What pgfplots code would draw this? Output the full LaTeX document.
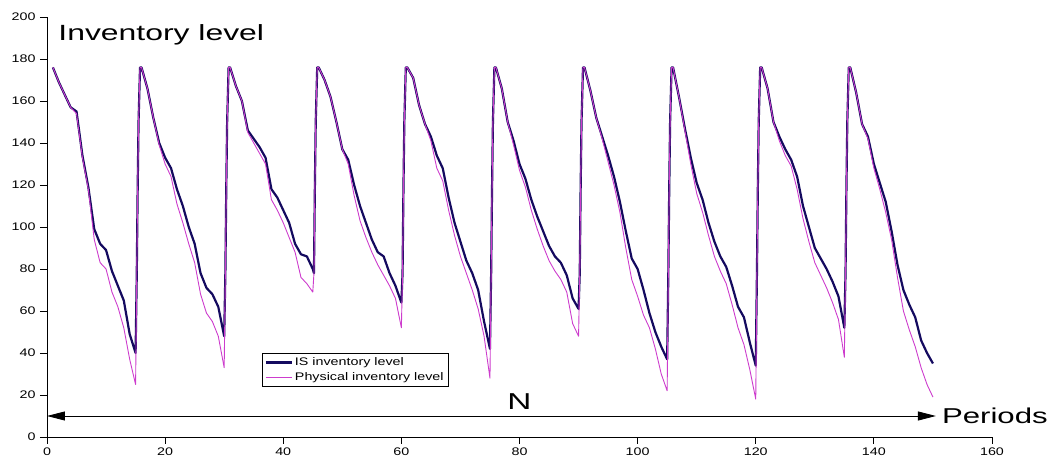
\documentclass[border=0pt]{standalone}
\usepackage{fontspec}
\setmainfont{Liberation Sans}[FakeStretch=1.3]
\newfontfamily\bigfont{Liberation Sans}[FakeStretch=1.45]
\usepackage{pgfplots}
\usepackage{pgfplotstable}
\pgfplotsset{compat=1.18}
\usetikzlibrary{arrows.meta}
\definecolor{isnavy}{RGB}{20,10,95}
\definecolor{physmag}{RGB}{205,60,205}

\pgfplotstableread{
x y
1 176
2 169
3 163
4 157
5 155
6 134
7 119
8 99
9 92
10 89
11 79
12 72
13 65
14 49
15 40
15.2 78
15.35 118
15.5 150
15.75 176
16 176
17 166
18 152
19 140
20 133
21 128
22 118
23 110
24 100
25 92
26 78
27 71
28 68
29 62
30 48
30.2 78
30.35 118
30.5 150
30.75 176
31 176
32 167
33 160
34 146
35 142
36 138
37 133
38 118
39 114
40 108
41 102
42 92
43 87
44 86
45 80
45.2 78
45.35 118
45.5 150
45.75 176
46 176
47 170
48 162
49 150
50 137
51 132
52 120
53 110
54 102
55 94
56 88
57 86
58 78
59 72
60 64
60.2 78
60.35 118
60.5 150
60.75 176
61 176
62 171
63 158
64 149
65 143
66 134
67 128
68 114
69 102
70 93
71 84
72 78
73 70
74 55
75 42
75.2 78
75.35 118
75.5 150
75.75 176
76 176
77 166
78 150
79 141
80 130
81 123
82 113
83 105
84 98
85 91
86 86
87 83
88 77
89 66
90 61
90.2 78
90.35 118
90.5 150
90.75 176
91 176
92 165
93 152
94 143
95 134
96 124
97 112
98 98
99 85
100 80
101 70
102 59
103 50
104 43
105 37
105.2 78
105.35 118
105.5 150
105.75 176
106 176
107 162
108 147
109 133
110 121
111 113
112 102
113 93
114 86
115 81
116 72
117 62
118 57
119 45
120 34
120.2 78
120.35 118
120.5 150
120.75 176
121 176
122 166
123 150
124 143
125 137
126 132
127 124
128 110
129 100
130 90
131 85
132 80
133 74
134 67
135 52
135.2 78
135.35 118
135.5 150
135.75 176
136 176
137 164
138 149
139 143
140 130
141 121
142 112
143 98
144 82
145 70
146 63
147 57
148 46
149 40
150 35
}\istable

\pgfplotstableread{
x y
1 176
2 169
3 163
4 157
5 154
6 133
7 118
8 94
9 83
10 80
11 69
12 62
13 52
14 37
15 25
15.2 78
15.35 118
15.5 150
15.75 176
16 176
17 166
18 152
19 139
20 130
21 124
22 111
23 102
24 92
25 83
26 68
27 59
28 55
29 48
30 33
30.2 78
30.35 118
30.5 150
30.75 176
31 176
32 167
33 160
34 145
35 140
36 135
37 130
38 113
39 108
40 102
41 95
42 88
43 76
44 73
45 69
45.2 78
45.35 118
45.5 150
45.75 176
46 176
47 170
48 162
49 150
50 137
51 130
52 115
53 103
54 95
55 88
56 82
57 77
58 72
59 66
60 52
60.2 78
60.35 118
60.5 150
60.75 176
61 176
62 171
63 158
64 149
65 141
66 128
67 122
68 108
69 96
70 86
71 78
72 70
73 61
74 48
75 28
75.2 78
75.35 118
75.5 150
75.75 176
76 176
77 166
78 150
79 139
80 127
81 119
82 108
83 99
84 91
85 84
86 79
87 75
88 69
89 54
90 48
90.2 78
90.35 118
90.5 150
90.75 176
91 176
92 165
93 152
94 142
95 131
96 120
97 107
98 90
99 75
100 67
101 58
102 52
103 42
104 30
105 22
105.2 78
105.35 118
105.5 150
105.75 176
106 176
107 162
108 146
109 130
110 116
111 107
112 96
113 86
114 79
115 73
116 63
117 52
118 44
119 32
120 18
120.2 78
120.35 118
120.5 150
120.75 176
121 176
122 166
123 150
124 141
125 134
126 129
127 118
128 104
129 93
130 83
131 77
132 71
133 64
134 56
135 38
135.2 78
135.35 118
135.5 150
135.75 176
136 176
137 164
138 149
139 142
140 128
141 118
142 107
143 94
144 76
145 60
146 51
147 43
148 33
149 25
150 19
}\phystable

\begin{document}
\begin{tikzpicture}
\useasboundingbox (-47pt,-23pt) rectangle (1003pt,437pt);
\begin{axis}[
  width=945pt, height=420pt, scale only axis,
  xmin=0, xmax=160, ymin=0, ymax=200,
  xtick={0,20,...,160}, ytick={0,20,...,200},
  axis lines=left,
  axis line style={-, line width=0.9pt, black},
  tick align=outside,
  major tick length=7pt,
  tick style={line width=0.9pt, black},
  /pgf/number format/assume math mode=true,
  tick label style={font=\fontsize{11}{13}\selectfont},
  yticklabel style={xshift=-1pt},
  clip=false,
  legend style={at={(axis cs:36.4,40)}, anchor=north west, draw=black,
    line width=0.6pt, font=\fontsize{11}{11}\selectfont,
    inner sep=2.5pt, row sep=1.5pt, cells={anchor=west}},
  legend image code/.code={\draw[#1] (0pt,0pt) -- (26pt,0pt);},
]
\addplot[isnavy, line width=2.2pt, line join=round] table[x=x,y=y] {\istable};
\addlegendentry{IS inventory level}
\addplot[physmag, line width=0.9pt, line join=round] table[x=x,y=y] {\phystable};
\addlegendentry{Physical inventory level}

\draw[{Triangle[length=18pt,width=9pt]}-{Triangle[length=18pt,width=9pt]}, line width=0.9pt, black]
  (axis cs:0,10) -- (axis cs:150.5,10);
\node[font=\bigfont\fontsize{23}{23}\selectfont, inner sep=0pt] at (axis cs:80,17) {N};
\node[font=\bigfont\fontsize{21.5}{22}\selectfont, inner sep=0pt, anchor=west] at (axis cs:151.5,10.2) {Periods};
\node[font=\bigfont\fontsize{22}{22}\selectfont, inner sep=0pt, anchor=base west] at (axis cs:1.9,189) {Inventory level};
\end{axis}
\end{tikzpicture}
\end{document}
